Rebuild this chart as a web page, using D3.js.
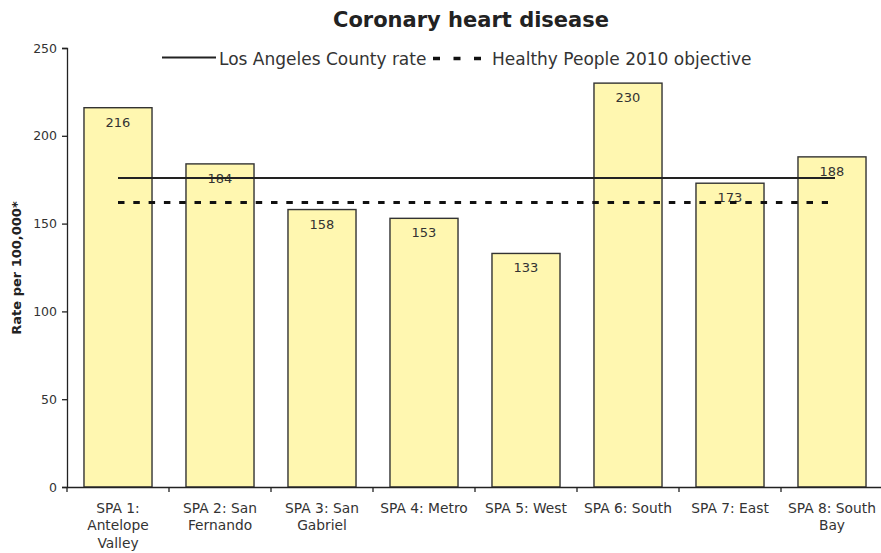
<!DOCTYPE html>
<html><head><meta charset="utf-8">
<script src="https://cdn.jsdelivr.net/npm/d3@7"></script>
<style>body{margin:0;background:#fff}svg{display:block;font-family:"DejaVu Sans",Verdana,sans-serif}</style>
</head><body><svg id="c" width="881" height="553"></svg>
<script>
const categories = [["SPA 1:","Antelope","Valley"],["SPA 2: San","Fernando"],["SPA 3: San","Gabriel"],["SPA 4: Metro"],["SPA 5: West"],["SPA 6: South"],["SPA 7: East"],["SPA 8: South","Bay"]];
const values = [216,184,158,153,133,230,173,188];
const countyRate = 176;
const hp2010 = 162;
const yTicks = [0,50,100,150,200,250];

const svg = d3.select("#c");
const keys = categories.map(c => c.join(" "));
const x = d3.scaleBand().domain(keys).range([67, 883]).paddingInner(0.333).paddingOuter(0.1665);
const xt = d3.scaleBand().domain(keys).range([67, 883]);
const y = d3.scaleLinear().domain([0,250]).range([487,48]);
const txt = "#333";

svg.append("text").attr("x",471).attr("y",27).attr("text-anchor","middle")
  .attr("font-weight","bold").attr("font-size",21).attr("fill","#222").text("Coronary heart disease");

// bars
svg.selectAll("rect.bar").data(values).join("rect").attr("class","bar")
  .attr("x",(d,i)=>x(keys[i])).attr("width",x.bandwidth())
  .attr("y",d=>y(d)).attr("height",d=>y(0)-y(d))
  .attr("fill","#FFF7B0").attr("stroke","#333").attr("stroke-width",1.4);

// bar labels
svg.selectAll("text.vl").data(values).join("text").attr("class","vl")
  .attr("x",(d,i)=>x(keys[i])+x.bandwidth()/2).attr("y",d=>y(d)+19)
  .attr("text-anchor","middle").attr("font-size",13).attr("fill",txt).text(d=>d);

// reference lines
const x1 = xt(keys[0])+xt.bandwidth()/2, x2 = xt(keys[keys.length-1])+xt.bandwidth()/2;
svg.append("line").attr("x1",x1).attr("x2",x2+3).attr("y1",y(countyRate)).attr("y2",y(countyRate))
  .attr("stroke","#222").attr("stroke-width",2);
svg.append("line").attr("x1",x1).attr("x2",x2-4).attr("y1",y(hp2010)).attr("y2",y(hp2010))
  .attr("stroke","#111").attr("stroke-width",3).attr("stroke-dasharray","6.5,8.8");

// y axis
const ya = svg.append("g").attr("transform","translate(67,0)")
  .call(d3.axisLeft(y).tickValues(yTicks).tickSize(5).tickPadding(5));
ya.select(".domain").attr("stroke","#222").attr("stroke-width",1.3);
ya.selectAll(".tick line").attr("stroke","#222").attr("stroke-width",1.3);
ya.selectAll(".tick text").attr("font-size",12.5).attr("fill",txt).attr("font-family","DejaVu Sans");

// x axis
const xa = svg.append("g").attr("transform","translate(0,487)")
  .call(d3.axisBottom(xt).tickSize(0).tickFormat(""));
xa.select(".domain").attr("stroke","#222").attr("stroke-width",1.3);
xa.selectAll(".tick").remove();
svg.selectAll("line.xt").data(keys.concat(["end"])).join("line").attr("class","xt")
  .attr("x1",(d,i)=>i<keys.length?xt(d):xt(keys[keys.length-1])+xt.bandwidth())
  .attr("x2",(d,i)=>i<keys.length?xt(d):xt(keys[keys.length-1])+xt.bandwidth())
  .attr("y1",487).attr("y2",492).attr("stroke","#222").attr("stroke-width",1.3);
const xl = svg.selectAll("text.xl").data(categories).join("text").attr("class","xl")
  .attr("text-anchor","middle").attr("font-size",13.8).attr("fill",txt);
xl.each(function(c,i){
  const t = d3.select(this);
  c.forEach((line,j)=>t.append("tspan").attr("x",xt(keys[i])+xt.bandwidth()/2).attr("y",512.5+j*17.5).text(line));
});

// y title
svg.append("text").attr("transform","translate(21,268) rotate(-90)").attr("text-anchor","middle")
  .attr("font-weight","bold").attr("font-size",13).attr("fill","#222").text("Rate per 100,000*");

// legend
svg.append("line").attr("x1",162).attr("x2",216).attr("y1",57.5).attr("y2",57.5).attr("stroke","#222").attr("stroke-width",2);
svg.append("text").attr("x",219).attr("y",65).attr("font-size",17).attr("fill",txt).text("Los Angeles County rate");
svg.append("line").attr("x1",433).attr("x2",481).attr("y1",58.5).attr("y2",58.5).attr("stroke","#111").attr("stroke-width",3.5).attr("stroke-dasharray","7,13.5");
svg.append("text").attr("x",492).attr("y",65).attr("font-size",17).attr("fill",txt).text("Healthy People 2010 objective");
</script></body></html>
